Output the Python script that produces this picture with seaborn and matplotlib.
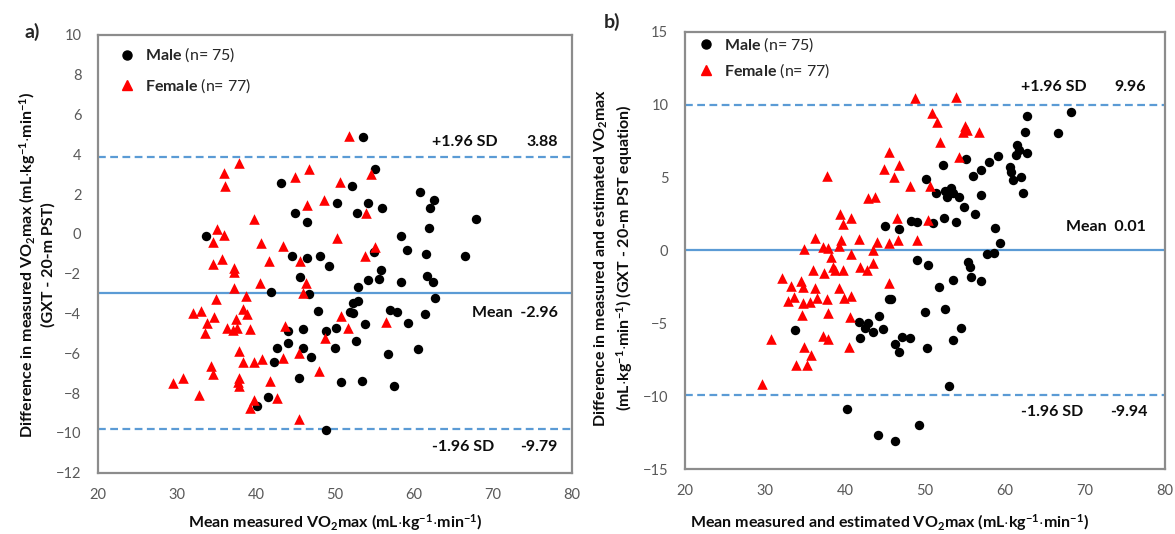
import pandas as pd
import matplotlib
matplotlib.use("Agg")
import matplotlib.pyplot as plt
import seaborn as sns
from matplotlib.ticker import MultipleLocator
from matplotlib.lines import Line2D

# (mean, difference) pairs
a_male = [(43.2, 2.55), (52.2, 2.43), (50.2, 1.54), (44.9, 1.06), (46.4, 0.62), (52.8, 1.05),
          (33.7, -0.09), (44.6, -1.11), (46.5, -1.22), (48.1, -1.11), (49.2, -1.59), (45.6, -2.15),
          (52.9, -2.65), (41.9, -2.93), (46.7, -3.02), (52.3, -3.45), (52.9, -3.35), (47.9, -3.88),
          (51.9, -3.90), (52.3, -3.98), (53.6, 4.89), (55.1, 3.25), (54.2, 1.57), (56.0, 1.29),
          (60.8, 2.13), (62.5, 1.71), (62.0, 1.29), (67.9, 0.74), (61.9, 0.32), (58.4, -0.09),
          (59.1, -0.80), (61.5, -1.00), (66.5, -1.11), (55.0, -0.89), (55.8, -1.81), (55.6, -2.26),
          (54.2, -2.31), (58.4, -2.40), (61.6, -2.10), (62.4, -2.40), (62.7, -3.23), (57.0, -3.82),
          (57.8, -3.93), (61.4, -4.04), (53.8, -4.54), (59.3, -4.49), (52.7, -5.38), (56.7, -6.03),
          (60.5, -5.80), (50.8, -7.42), (53.4, -7.37), (57.5, -7.64), (44.0, -4.86), (46.0, -4.77),
          (48.9, -4.87), (50.1, -4.71), (44.1, -5.46), (42.7, -5.74), (46.0, -5.74), (46.9, -6.20),
          (50.0, -5.74), (42.3, -6.45), (45.4, -7.22), (41.5, -8.21), (40.1, -8.64), (48.9, -9.85)]

a_female = [(51.8, 4.92), (37.8, 3.58), (35.9, 3.08), (36.1, 2.41), (44.9, 2.85), (46.7, 3.28),
            (50.6, 2.63), (46.4, 1.46), (48.6, 1.71), (39.7, 0.74), (35.1, 0.24), (36.0, -0.05),
            (34.6, -0.39), (40.6, -0.44), (43.4, -0.59), (50.2, -0.19), (35.7, -1.27), (34.5, -1.51),
            (37.2, -1.72), (37.2, -1.89), (41.6, -1.36), (45.6, -1.36), (46.3, -2.48), (40.5, -2.48),
            (37.2, -2.70), (38.7, -3.10), (34.9, -3.27), (46.0, -2.98), (32.0, -3.98), (33.1, -3.85),
            (38.4, -3.78), (38.9, -4.04), (34.7, -4.15), (50.8, -4.12), (37.5, -4.29), (54.6, 3.00),
            (53.9, 1.04), (55.1, -0.64), (53.8, -1.11), (51.7, -4.74), (56.5, -4.44), (33.8, -4.49),
            (36.3, -4.74), (37.1, -4.82), (37.6, -4.74), (39.3, -4.79), (33.5, -4.99), (43.7, -4.62),
            (48.7, -5.21), (45.4, -5.96), (43.4, -6.25), (40.7, -6.28), (39.7, -6.42), (38.3, -6.42),
            (37.9, -5.88), (34.3, -6.63), (34.6, -7.04), (29.5, -7.50), (30.8, -7.22), (32.8, -8.09),
            (37.8, -7.25), (37.7, -7.42), (37.8, -7.64), (41.8, -7.39), (42.7, -8.23), (39.8, -8.34),
            (39.3, -8.76), (48.0, -6.88), (45.4, -9.30)]

b_male = [(50.1, 4.90), (51.4, 3.92), (51.0, 1.86), (48.3, 2.02), (49.0, 1.93), (45.0, 1.67),
          (46.8, 1.45), (49.0, -0.66), (50.4, -1.00), (51.7, -2.49), (62.8, 9.22), (68.3, 9.47),
          (62.5, 8.14), (66.6, 8.07), (61.5, 7.23), (61.4, 6.54), (61.7, 6.88), (62.7, 6.66),
          (59.1, 6.47), (58.0, 6.04), (55.1, 6.27), (52.3, 5.86), (60.6, 5.74), (60.8, 5.36),
          (61.0, 4.83), (62.0, 5.01), (62.3, 3.92), (57.0, 5.52), (56.0, 5.10), (52.5, 4.07),
          (53.3, 4.26), (53.5, 3.96), (52.8, 3.68), (54.2, 3.68), (54.9, 3.00), (57.0, 3.80),
          (56.2, 2.48), (52.4, 2.25), (53.9, 1.93), (58.8, 1.56), (59.4, 0.49), (58.6, -0.19),
          (57.7, -0.27), (55.4, -0.77), (55.6, -1.12), (53.5, -2.03), (55.7, -1.80), (57.0, -2.10),
          (45.5, -3.36), (45.8, -3.36), (50.0, -4.20), (44.2, -4.50), (41.7, -4.89), (42.9, -4.96),
          (42.5, -5.34), (43.5, -5.58), (44.8, -5.41), (41.9, -6.03), (33.8, -5.46), (46.2, -6.42),
          (46.8, -6.95), (47.1, -5.92), (48.1, -6.03), (50.2, -6.67), (40.2, -10.88), (44.1, -12.66),
          (46.2, -13.05), (49.3, -11.97), (52.5, -4.04), (54.5, -5.34), (53.5, -6.15), (53.0, -9.28)]

b_female = [(48.8, 10.47), (50.9, 9.44), (51.5, 8.83), (51.9, 7.42), (45.5, 6.77), (44.9, 5.56),
            (46.8, 5.86), (46.1, 5.01), (37.7, 5.10), (42.9, 3.61), (43.8, 3.68), (48.1, 4.42),
            (50.6, 4.42), (39.4, 2.48), (40.8, 2.25), (39.7, 1.79), (46.5, 2.25), (50.4, 2.09),
            (36.2, 0.83), (34.9, 0.07), (37.3, 0.25), (37.9, 0.18), (39.5, 0.71), (39.3, 0.32),
            (41.8, 0.76), (44.0, 0.59), (45.5, 0.52), (46.6, 0.69), (49.0, 0.71), (38.3, -0.43),
            (40.8, -0.27), (43.5, 0.03), (43.5, -0.84), (36.0, -1.34), (37.4, -1.53), (38.5, -1.16),
            (39.8, -1.34), (38.8, -1.34), (41.9, -1.12), (42.7, -1.34), (32.1, -1.91), (34.5, -2.08),
            (45.5, -2.22), (33.2, -2.44), (34.7, -2.53), (36.2, -2.60), (39.3, -2.60), (53.9, 10.54),
            (55.0, 8.55), (55.2, 8.26), (54.7, 8.14), (56.7, 8.14), (54.2, 6.43), (32.9, -3.45),
            (33.6, -3.18), (34.8, -3.63), (35.6, -3.56), (36.5, -3.24), (37.7, -3.33), (39.9, -3.24),
            (40.8, -3.11), (34.6, -4.43), (37.9, -4.31), (40.6, -4.55), (30.8, -6.10), (37.2, -5.87),
            (37.9, -6.10), (34.9, -6.65), (35.8, -7.18), (33.9, -7.86), (35.2, -7.86), (40.5, -6.65),
            (29.6, -9.18)]

# +1.96 SD, mean, -1.96 SD
a_limits = [3.88, -2.96, -9.79]
b_limits = [9.96, 0.01, -9.94]
group_names = ["Male", "Female"]
group_counts = [75, 77]

LINE_BLUE = "#5B9BD5"
FRAME_GREY = "#8C8C8C"
TICK_GREY = "#595959"

sns.set_style("white")
plt.rcParams["font.family"] = ["Lato", "DejaVu Sans"]
plt.rcParams["mathtext.fontset"] = "custom"
plt.rcParams["mathtext.rm"] = "Lato"
plt.rcParams["mathtext.bf"] = "Lato:bold"
plt.rcParams["mathtext.it"] = "Lato:italic"


def to_frame(points, group):
    df = pd.DataFrame(points, columns=["mean", "diff"])
    df["sex"] = group
    return df


def draw_panel(ax, male, female, limits, ylim, ystep, yminor):
    sns.scatterplot(data=to_frame(male, "Male"), x="mean", y="diff", color="black",
                    marker="o", s=46, linewidth=0, ax=ax, zorder=3)
    sns.scatterplot(data=to_frame(female, "Female"), x="mean", y="diff", color="red",
                    marker="^", s=58, linewidth=0, ax=ax, zorder=4)
    ax.axhline(limits[0], color=LINE_BLUE, lw=1.6, ls=(0, (3.5, 2)), zorder=2)
    ax.axhline(limits[1], color=LINE_BLUE, lw=1.6, zorder=2)
    ax.axhline(limits[2], color=LINE_BLUE, lw=1.6, ls=(0, (3.5, 2)), zorder=2)

    ax.set_xlim(20, 80)
    ax.set_ylim(*ylim)
    ax.xaxis.set_major_locator(MultipleLocator(10))
    ax.yaxis.set_major_locator(MultipleLocator(ystep))
    ax.yaxis.set_minor_locator(MultipleLocator(yminor))
    ax.tick_params(axis="x", length=0, pad=11, labelsize=10.5, labelcolor=TICK_GREY)
    ax.tick_params(axis="y", which="both", direction="in", length=4, width=1,
                   color="#A6A6A6", pad=12, labelsize=10.5, labelcolor=TICK_GREY)
    ax.tick_params(axis="y", which="minor", labelleft=False)
    for sp in ax.spines.values():
        sp.set_visible(True)
        sp.set_color(FRAME_GREY)
        sp.set_linewidth(1.6)
    ax.set_xlabel("")
    ax.set_ylabel("")

    handles = [Line2D([], [], marker="o", color="black", ls="", markersize=6.5),
               Line2D([], [], marker="^", color="red", ls="", markersize=7.5)]
    labels = [r"$\mathbf{%s}$ (n= %d)" % (g, n) for g, n in zip(group_names, group_counts)]
    return handles, labels


fig = plt.figure(figsize=(11.75, 5.34), dpi=100)
ax_a = fig.add_axes([0.0834, 0.1148, 0.4034, 0.8197])
ax_b = fig.add_axes([0.5830, 0.1217, 0.4085, 0.8189])

h, l = draw_panel(ax_a, a_male, a_female, a_limits, (-12, 10), 2, 0.4)
leg = ax_a.legend(h, l, loc="upper left", bbox_to_anchor=(0.011, 1.008), frameon=False,
                  fontsize=11.5, labelspacing=0.75, handletextpad=0.5, handlelength=1.2)
for t in leg.get_texts():
    t.set_color("#262626")

h, l = draw_panel(ax_b, b_male, b_female, b_limits, (-15, 15), 5, 1)
leg = ax_b.legend(h, l, loc="upper left", bbox_to_anchor=(-0.006, 1.025), frameon=False,
                  fontsize=11.5, labelspacing=0.5, handletextpad=0.5, handlelength=1.2)
for t in leg.get_texts():
    t.set_color("#262626")

txt = dict(fontsize=11.5, fontweight="bold", color="#0D0D0D", va="center")
# panel a annotations
ax_a.text(62.3, 4.62, "+1.96 SD", ha="left", **txt)
ax_a.text(78.2, 4.62, "%.2f" % a_limits[0], ha="right", **txt)
ax_a.text(78.2, -3.97, "Mean  %.2f" % a_limits[1], ha="right", **txt)
ax_a.text(62.3, -10.7, "-1.96 SD", ha="left", **txt)
ax_a.text(78.2, -10.7, "%.2f" % a_limits[2], ha="right", **txt)
# panel b annotations
ax_b.text(62.0, 11.2, "+1.96 SD", ha="left", **txt)
ax_b.text(77.6, 11.2, "%.2f" % b_limits[0], ha="right", **txt)
ax_b.text(77.6, 1.6, "Mean  %.2f" % b_limits[1], ha="right", **txt)
ax_b.text(62.0, -11.1, "-1.96 SD", ha="left", **txt)
ax_b.text(77.8, -11.1, "%.2f" % b_limits[2], ha="right", **txt)

unit = r"(mL$\cdot$kg$^{\mathbf{-1}}$$\cdot$min$^{\mathbf{-1}}$)"
vo2 = r"VO$_{\mathbf{2}}$max"
lab = dict(fontsize=11.5, fontweight="bold", color="#0D0D0D", ha="center", va="center")

fig.text(335 / 1175, 1 - 523 / 534, "Mean measured " + vo2 + " " + unit, **lab)
fig.text(890 / 1175, 1 - 523 / 534, "Mean measured and estimated " + vo2 + " " + unit, **lab)
fig.text(36 / 1175, 1 - 265 / 534,
         "Difference in measured " + vo2 + " " + unit + "\n(GXT - 20-m PST)",
         rotation=90, multialignment="center", linespacing=1.25, **lab)
fig.text(614 / 1175, 1 - 258 / 534,
         "Difference in measured and estimated " + vo2 + "\n" + unit + " (GXT - 20-m PST equation)",
         rotation=90, multialignment="center", linespacing=1.25, **lab)

fig.text(32 / 1175, 1 - 32 / 534, "a)", fontsize=14, fontweight="bold", ha="center", va="center")
fig.text(612 / 1175, 1 - 22 / 534, "b)", fontsize=14, fontweight="bold", ha="center", va="center")

fig.savefig("out.png", dpi=100)
